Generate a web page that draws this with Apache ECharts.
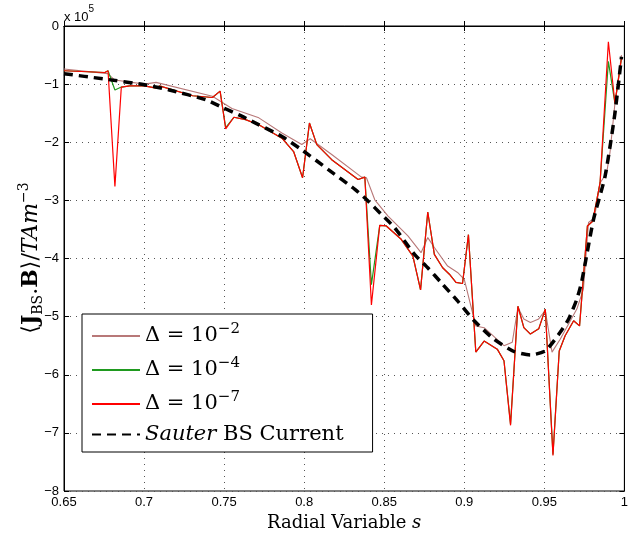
<!DOCTYPE html>
<html><head><meta charset="utf-8">
<script src="https://cdn.jsdelivr.net/npm/echarts@6/dist/echarts.min.js"></script>
<style>html,body{margin:0;padding:0;background:#fff}#c{width:631px;height:537px}</style>
</head><body><div id="c"></div>
<script>
// tick labels
const xTickLabels = ['0.65','0.7','0.75','0.8','0.85','0.9','0.95','1'];
const yTickLabels = ['\u22128','\u22127','\u22126','\u22125','\u22124','\u22123','\u22122','\u22121','0'];

// Δ = 1e-7 and 1e-4 share the radial grid
const sFine = [0.650,0.6755,0.6775,0.6818,0.6858,0.6910,0.7003,0.7075,0.7096,0.7303,0.7427,0.7475,0.7510,0.7561,0.7634,0.7717,0.7861,0.7934,0.7990,0.8033,0.8079,0.8172,0.8337,0.8379,0.8420,0.8472,0.8513,0.8606,0.8679,0.8727,0.8772,0.8813,0.8865,0.8907,0.8948,0.8989,0.9026,0.9072,0.9124,0.9206,0.9248,0.9289,0.9335,0.9372,0.9413,0.9465,0.9506,0.9554,0.9593,0.9630,0.9683,0.9720,0.9769,0.9802,0.9848,0.9900,0.9941,0.9982];
const vDelta7 = [-0.77,-0.80,-0.77,-2.76,-1.05,-1.03,-1.03,-1.07,-1.03,-1.20,-1.23,-1.12,-1.77,-1.57,-1.61,-1.70,-1.93,-2.16,-2.61,-1.67,-2.04,-2.30,-2.64,-2.60,-4.80,-3.43,-3.44,-3.67,-3.96,-4.54,-3.20,-3.93,-4.16,-4.27,-4.41,-4.43,-3.59,-5.61,-5.42,-5.56,-5.76,-6.87,-4.82,-5.19,-5.30,-5.21,-4.87,-7.39,-5.59,-5.33,-5.07,-5.16,-3.44,-3.36,-2.70,-0.27,-1.33,-0.55];
const vDelta4 = [-0.77,-0.80,-0.77,-1.10,-1.05,-1.03,-1.03,-1.07,-1.03,-1.20,-1.23,-1.12,-1.75,-1.57,-1.61,-1.70,-1.93,-2.16,-2.61,-1.67,-2.04,-2.30,-2.64,-2.60,-4.45,-3.43,-3.44,-3.67,-3.96,-4.54,-3.20,-3.93,-4.16,-4.27,-4.41,-4.43,-3.59,-5.61,-5.42,-5.56,-5.76,-6.85,-4.82,-5.19,-5.30,-5.21,-4.87,-7.37,-5.59,-5.33,-5.07,-5.16,-3.44,-3.36,-2.70,-0.61,-1.33,-0.55];

// Δ = 1e-2
const sDelta2 = [0.650,0.6773,0.6817,0.7003,0.7075,0.7427,0.7549,0.7717,0.7861,0.7985,0.8038,0.8172,0.8358,0.8389,0.8441,0.8524,0.8648,0.8730,0.8772,0.8813,0.8896,0.8958,0.9000,0.9072,0.9124,0.9248,0.9300,0.9335,0.9372,0.9413,0.9465,0.9506,0.9548,0.9599,0.9703,0.9744,0.9776,0.9813,0.9848,0.9889,0.9910,0.9941,0.9982];
const vDelta2 = [-0.74,-0.82,-0.93,-1.00,-0.97,-1.21,-1.42,-1.58,-1.84,-2.04,-1.94,-2.21,-2.60,-2.61,-2.99,-3.27,-3.61,-3.90,-3.64,-3.81,-4.13,-4.24,-4.36,-5.16,-5.19,-5.50,-5.44,-4.84,-5.04,-5.10,-5.04,-4.89,-5.61,-5.39,-4.87,-4.53,-3.38,-3.30,-2.70,-2.53,-2.18,-1.33,-0.50];

// Sauter BS current
const sSauter = [0.650,0.6744,0.7003,0.7158,0.7386,0.7489,0.7593,0.7652,0.7861,0.7985,0.8151,0.8317,0.8399,0.8482,0.8565,0.8689,0.8772,0.8854,0.8958,0.9062,0.9186,0.9310,0.9413,0.9506,0.9599,0.9652,0.9703,0.9734,0.9807,0.9879,0.9941,0.9982];
const vSauter = [-0.82,-0.91,-1.01,-1.10,-1.27,-1.40,-1.53,-1.61,-1.90,-2.13,-2.47,-2.81,-3.01,-3.24,-3.47,-3.93,-4.16,-4.41,-4.73,-5.07,-5.39,-5.60,-5.66,-5.59,-5.27,-5.04,-4.70,-4.39,-3.33,-2.59,-1.50,-0.53];

const zip = (a, b) => a.map((x, i) => [x, b[i]]);
const SERIF = 'DejaVu Serif';
const SANS = 'Liberation Sans';

const legendText = {
  d2: '{t|\u0394 = 10}{sup|\u22122}',
  d4: '{t|\u0394 = 10}{sup|\u22124}',
  d7: '{t|\u0394 = 10}{sup|\u22127}',
  sa: '{it|Sauter}{t| BS Current}'
};

const chart = echarts.init(document.getElementById('c'), null, {renderer: 'canvas'});
const grid = {left: 64, top: 26, right: 3, bottom: 45, show: true, borderColor: '#000', borderWidth: 1, backgroundColor: 'transparent'};
const commonX = {type: 'value', min: 0.65, max: 1.0, interval: 0.05};
const commonY = {type: 'value', min: -8, max: 0, interval: 1};

chart.setOption({
  animation: false,
  backgroundColor: '#fff',
  grid: grid,
  xAxis: [
    Object.assign({}, commonX, {
      position: 'bottom',
      axisLine: {show: true, lineStyle: {color: '#000', width: 1}},
      axisTick: {show: true, inside: true, length: 5, lineStyle: {color: '#000'}},
      axisLabel: {color: '#000', fontFamily: SANS, fontSize: 13, margin: 5,
        formatter: v => xTickLabels[Math.round((v - 0.65) / 0.05)]},
      splitLine: {show: true, lineStyle: {color: '#555', type: [1, 5], width: 1}},
      name: '{t|Radial Variable }{it|s}',
      nameLocation: 'middle', nameGap: 23,
      nameTextStyle: {color: '#000', fontFamily: SERIF, fontSize: 18,
        rich: {t: {fontFamily: SERIF, fontSize: 18, color: '#000'}, it: {fontFamily: SERIF, fontSize: 18, fontStyle: 'italic', color: '#000'}}}
    }),
    Object.assign({}, commonX, {
      position: 'top',
      axisLine: {show: true, lineStyle: {color: '#000'}},
      axisTick: {show: true, inside: true, length: 5, lineStyle: {color: '#000'}},
      axisLabel: {show: false}, splitLine: {show: false}
    })
  ],
  yAxis: [
    Object.assign({}, commonY, {
      position: 'left',
      axisLine: {show: true, lineStyle: {color: '#000', width: 1}},
      axisTick: {show: true, inside: true, length: 5, lineStyle: {color: '#000'}},
      axisLabel: {color: '#000', fontFamily: SANS, fontSize: 13, margin: 5,
        formatter: v => yTickLabels[Math.round(v) + 8]},
      splitLine: {show: true, lineStyle: {color: '#555', type: [1, 5], width: 1}}
    }),
    Object.assign({}, commonY, {
      position: 'right',
      axisLine: {show: true, lineStyle: {color: '#000'}},
      axisTick: {show: true, inside: true, length: 5, lineStyle: {color: '#000'}},
      axisLabel: {show: false}, splitLine: {show: false}
    })
  ],
  graphic: [{
    type: 'text', left: 64, top: 4,
    style: {text: '{t|x 10}{sup|5}', fill: '#000',
      rich: {t: {fontFamily: SANS, fontSize: 13, lineHeight: 20, verticalAlign: 'bottom'}, sup: {fontFamily: SANS, fontSize: 10, lineHeight: 11, verticalAlign: 'top'}}}
  }, {
    type: 'text', x: 31, y: 258, rotation: Math.PI / 2,
    style: {
      text: '{t|\u27E8}{b|J}{sub|BS}{t|.}{b|B}{t|\u27E9/}{it|TAm}{sup|\u22123}',
      align: 'center', verticalAlign: 'middle', fill: '#000',
      rich: {
        t: {fontFamily: SERIF, fontSize: 22, fill: '#000', lineHeight: 28},
        b: {fontFamily: SERIF, fontSize: 22, fontWeight: 'bold', fill: '#000', lineHeight: 28},
        sub: {fontFamily: SERIF, fontSize: 14, fill: '#000', lineHeight: 12, verticalAlign: 'bottom'},
        it: {fontFamily: SERIF, fontSize: 22, fontStyle: 'italic', fill: '#000', lineHeight: 28},
        sup: {fontFamily: SERIF, fontSize: 14, fill: '#000', lineHeight: 12, verticalAlign: 'top'}
      }
    }
  }],
  legend: {
    orient: 'vertical', left: 82, top: 314,
    padding: [8, 29, 7, 9], itemGap: 9.5, itemWidth: 48, itemHeight: 14,
    backgroundColor: '#fff', borderColor: '#000', borderWidth: 1, borderRadius: 0,
    itemStyle: {opacity: 0},
    data: ['d2', 'd4', 'd7', 'sa'],
    formatter: n => legendText[n],
    textStyle: {color: '#000', fontFamily: SERIF, fontSize: 21,
      rich: {
        t: {fontFamily: SERIF, fontSize: 21, color: '#000', lineHeight: 28},
        it: {fontFamily: SERIF, fontSize: 21, fontStyle: 'italic', color: '#000', lineHeight: 28},
        sup: {fontFamily: SERIF, fontSize: 15, color: '#000', lineHeight: 14, verticalAlign: 'top'}
      }}
  },
  series: [
    {name: 'd2', type: 'line', data: zip(sDelta2, vDelta2), symbol: 'none', lineStyle: {color: '#b87878', width: 1.1}, itemStyle: {color: '#b87878'}},
    {name: 'd4', type: 'line', data: zip(sFine, vDelta4), symbol: 'none', lineStyle: {color: '#1f9a1f', width: 1.2}, itemStyle: {color: '#1f9a1f'}},
    {name: 'd7', type: 'line', data: zip(sFine, vDelta7), symbol: 'none', lineStyle: {color: '#ff0000', width: 1.2}, itemStyle: {color: '#ff0000'}},
    {name: 'sa', type: 'line', data: zip(sSauter, vSauter), symbol: 'none', smooth: 0.2, lineStyle: {color: '#000', width: 3.5, type: [9, 6]}, itemStyle: {color: '#000'}}
  ]
});
</script>
</body></html>
